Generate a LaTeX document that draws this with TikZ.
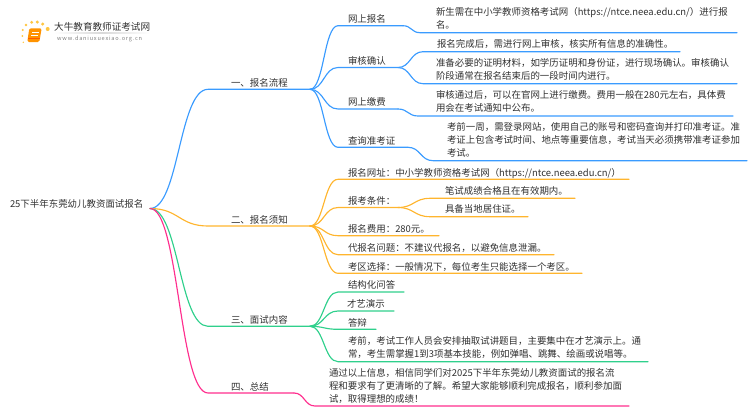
\documentclass[tikz,border=0pt]{standalone}
\usepackage{fontspec}
\setmainfont{Noto Sans CJK SC}
\usetikzlibrary{calc}
\definecolor{cblue}{HTML}{3A9BFF}
\definecolor{corange}{HTML}{FFB52E}
\definecolor{cgreen}{HTML}{2FD08C}
\definecolor{cpink}{HTML}{FF2E8E}
\definecolor{ctext}{HTML}{303030}
\tikzset{
  box/.style={inner sep=0pt,outer sep=0pt,anchor=south west,text=ctext,minimum height=0pt},
  wire/.style={line width=1.15pt,line cap=round}
}
\newlength{\lfw}
% name, x1, x2, y of underline, indent, raise, text
\newcommand{\lf}[7]{%
  \pgfmathsetlength{\lfw}{#3-#2-#5}%
  \node[box,minimum width={(#3-#2)*1pt}] (#1) at (#2,#4) {\hspace*{#5pt}\raisebox{#6pt}{\parbox[b]{\lfw}{\fontsize{9.45}{13}\selectfont\parindent=0pt\baselineskip=13pt #7}}\hfill};}
\newcommand{\cn}[3]{%
  \draw[wire,#1] let \p1=(#2),\p2=(#3.south west) in (\p1) .. controls ({0.5*\x1+0.5*\x2},\y1) and ({0.5*\x1+0.5*\x2},\y2) .. (\p2) -- (#3.south east);}
\begin{document}
\begin{tikzpicture}[x=1pt,y=-1pt]
\useasboundingbox (0,0) rectangle (750,410);
% logo
\foreach \a/\b/\r in {22.7/30/1.1,26/25/1.4,31.7/22.3/1.6,37.3/22/1.7,42.7/24/1.7,47.7/29/2,22.3/36/1,23.3/42.3/.8}
  \fill[orange!60!yellow,opacity=.75] (\a,\b) circle (\r);
\fill[rounded corners=1.5pt,fill=orange!85!yellow] (29.3,28.3) -- (41.7,28.3) -- (39.3,42) -- (27.3,42) -- cycle;
\draw[white,line width=.6pt] (32,32) -- (39,32) (31.4,35) -- (38.4,35);
\draw[orange!70!red,line width=.7pt] (28.3,38.5) -- (39.8,38.5);
\shade[left color=white,right color=white,middle color=gray!30] (54,32.6) rectangle (150,33.4);
\node[inner sep=0pt,anchor=west,text=ctext] (logoa) at (54,27) {\fontsize{9.6}{12}\selectfont 大牛教育教师证考试网};
\node[inner sep=0pt,anchor=west,text=gray] (logob) at (57,39) {\fontsize{5.6}{7}\selectfont\addfontfeature{LetterSpace=14}www.daniuxuexiao.org.cn};
% root
\lf{root}{10}{150}{208.5}{0}{0}{25下半年东莞幼儿教资面试报名}
% branches
\lf{ba}{208}{310}{89.3}{23}{2.9}{一、报名流程}
\lf{bb}{208}{310}{226}{23}{2.9}{二、报名须知}
\lf{bc}{208}{310}{326.3}{23}{2.9}{三、面试内容}
\lf{bd}{208}{294}{393}{23}{2.9}{四、总结}
% branch 1
\lf{a1}{338}{403}{25.7}{10}{3.2}{网上报名}
\lf{a1x}{420}{737}{32.7}{16}{4.6}{新生需在中小学教师资格考试网（https://ntce.neea.edu.cn/）进行报\\名。}
\lf{a2}{338}{398}{67.5}{10}{3.4}{审核确认}
\lf{a2x}{423}{680}{51.7}{14}{4.2}{报名完成后，需进行网上审核，核实所有信息的准确性。}
\lf{a2y}{423}{737}{83.7}{13}{4.2}{准备必要的证明材料，如学历证明和身份证，进行现场确认。审核确认\\阶段通常在报名结束后的一段时间内进行。}
\lf{a3}{338}{398}{109}{10}{3.2}{网上缴费}
\lf{a3x}{418}{733}{116}{18}{4.2}{审核通过后，可以在官网上进行缴费。费用一般在280元左右，具体费\\用会在考试通知中公布。}
\lf{a4}{338}{408}{147.3}{10}{3.2}{查询准考证}
\lf{a4x}{433}{747}{160.7}{14}{4.4}{考前一周，需登录网站，使用自己的账号和密码查询并打印准考证。准\\考证上包含考试时间、地点等重要信息，考试当天必须携带准考证参加\\考试。}
% branch 2
\lf{b1}{338}{629}{179.3}{10}{3.2}{报名网址：中小学教师资格考试网（https://ntce.neea.edu.cn/）}
\lf{b2}{338}{398}{207.5}{10}{3.2}{报考条件：}
\lf{b2x}{430}{575}{198.3}{15}{4.2}{笔试成绩合格且在有效期内。}
\lf{b2y}{430}{528}{216.7}{15}{4.2}{具备当地居住证。}
\lf{b3}{338}{439}{235.7}{10}{3.2}{报名费用：280元。}
\lf{b4}{338}{554}{254.7}{10}{3.2}{代报名问题：不建议代报名，以避免信息泄漏。}
\lf{b5}{338}{582}{273.3}{10}{3.2}{考区选择：一般情况下，每位考生只能选择一个考区。}
% branch 3
\lf{c1}{338}{404}{292}{10}{3.2}{结构化问答}
\lf{c2}{338}{394}{311}{9}{3.2}{才艺演示}
\lf{c3}{338}{376}{329.3}{10}{3.2}{答辩}
\lf{c4}{338}{648}{361.7}{10}{4}{考前，考试工作人员会安排抽取试讲题目，主要集中在才艺演示上。通\\常，考生需掌握1到3项基本技能，例如弹唱、跳舞、绘画或说唱等。}
% branch 4
\lf{d1}{315}{629}{406}{14}{4}{通过以上信息，相信同学们对2025下半年东莞幼儿教资面试的报名流\\程和要求有了更清晰的了解。希望大家能够顺利完成报名，顺利参加面\\试，取得理想的成绩！}
% connectors
\cn{cblue}{root.south east}{ba}
\cn{cblue}{ba.south east}{a1}\cn{cblue}{a1.south east}{a1x}
\cn{cblue}{ba.south east}{a2}\cn{cblue}{a2.south east}{a2x}\cn{cblue}{a2.south east}{a2y}
\cn{cblue}{ba.south east}{a3}\cn{cblue}{a3.south east}{a3x}
\cn{cblue}{ba.south east}{a4}\cn{cblue}{a4.south east}{a4x}
\cn{corange}{root.south east}{bb}
\cn{corange}{bb.south east}{b1}
\cn{corange}{bb.south east}{b2}\cn{corange}{b2.south east}{b2x}\cn{corange}{b2.south east}{b2y}
\cn{corange}{bb.south east}{b3}\cn{corange}{bb.south east}{b4}\cn{corange}{bb.south east}{b5}
\cn{cgreen}{root.south east}{bc}
\cn{cgreen}{bc.south east}{c1}\cn{cgreen}{bc.south east}{c2}\cn{cgreen}{bc.south east}{c3}\cn{cgreen}{bc.south east}{c4}
\cn{cpink}{root.south east}{bd}
\cn{cpink}{bd.south east}{d1}
\end{tikzpicture}
\end{document}
